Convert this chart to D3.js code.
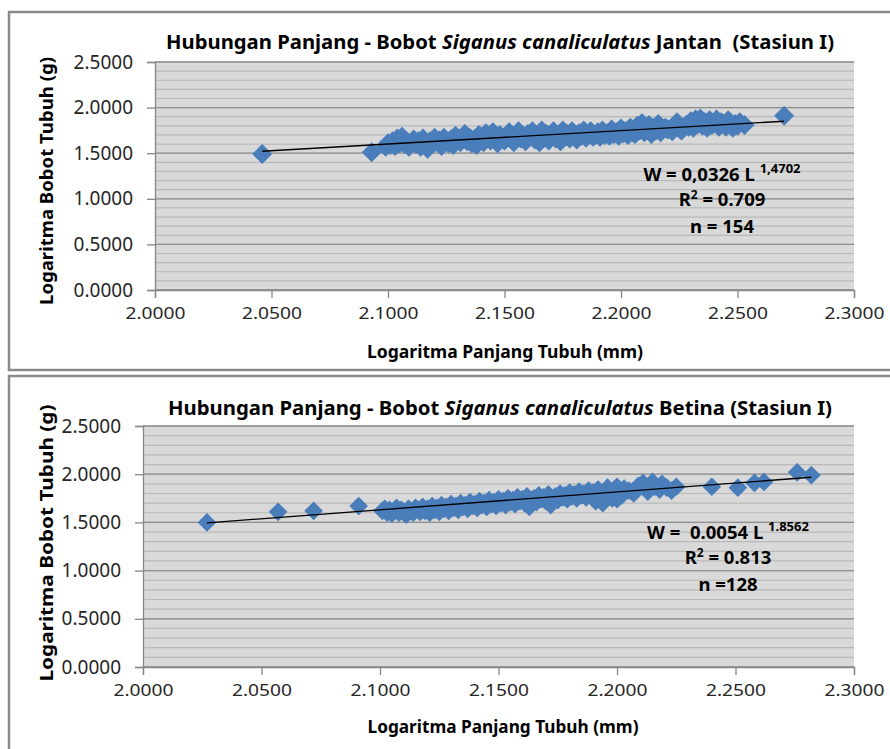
<!DOCTYPE html>
<html>
<head>
<meta charset="utf-8">
<script src="https://cdn.jsdelivr.net/npm/d3@7"></script>
<style>
  body { margin: 0; background: #fff; }
  text { font-family: 'Noto Sans', 'Open Sans', sans-serif; }
</style>
</head>
<body>
<div id="chart"></div>
<script>
const xTicks = [2.0, 2.05, 2.1, 2.15, 2.2, 2.25, 2.3]
const yTicks = [0, 0.5, 1.0, 1.5, 2.0, 2.5]

// Jantan (male), n = 154 -- log length vs log weight
const jantanX = [2.046, 2.093, 2.099, 2.100, 2.101, 2.102, 2.103, 2.104, 2.105, 2.106, 2.107, 2.108, 2.109, 2.110, 2.111, 2.112, 2.113, 2.114, 2.115, 2.116,
  2.117, 2.118, 2.119, 2.120, 2.121, 2.122, 2.123, 2.124, 2.125, 2.126, 2.127, 2.128, 2.129, 2.130, 2.131, 2.132, 2.133, 2.134, 2.135, 2.136,
  2.137, 2.138, 2.139, 2.140, 2.141, 2.142, 2.143, 2.144, 2.145, 2.146, 2.147, 2.148, 2.149, 2.150, 2.151, 2.152, 2.153, 2.154, 2.155, 2.156,
  2.157, 2.158, 2.159, 2.160, 2.161, 2.162, 2.163, 2.164, 2.165, 2.166, 2.167, 2.168, 2.169, 2.170, 2.171, 2.172, 2.173, 2.174, 2.175, 2.176,
  2.177, 2.178, 2.179, 2.180, 2.181, 2.182, 2.183, 2.184, 2.185, 2.186, 2.187, 2.188, 2.189, 2.190, 2.191, 2.192, 2.193, 2.194, 2.195, 2.196,
  2.197, 2.198, 2.199, 2.200, 2.201, 2.202, 2.203, 2.204, 2.205, 2.206, 2.207, 2.208, 2.209, 2.210, 2.211, 2.212, 2.213, 2.214, 2.215, 2.216,
  2.217, 2.219, 2.220, 2.222, 2.223, 2.224, 2.225, 2.226, 2.228, 2.229, 2.230, 2.231, 2.232, 2.233, 2.234, 2.235, 2.236, 2.237, 2.238, 2.239,
  2.240, 2.241, 2.242, 2.243, 2.244, 2.245, 2.246, 2.247, 2.248, 2.249, 2.250, 2.251, 2.253, 2.270]
const jantanY = [1.49, 1.51, 1.57, 1.61, 1.59, 1.63, 1.58, 1.66, 1.61, 1.68, 1.60, 1.63, 1.57, 1.62, 1.65, 1.60, 1.63, 1.57, 1.66, 1.61,
  1.55, 1.63, 1.60, 1.67, 1.62, 1.64, 1.58, 1.67, 1.63, 1.61, 1.65, 1.59, 1.69, 1.64, 1.62, 1.66, 1.71, 1.63, 1.67, 1.61,
  1.65, 1.59, 1.70, 1.66, 1.62, 1.72, 1.67, 1.64, 1.73, 1.68, 1.61, 1.70, 1.66, 1.64, 1.69, 1.73, 1.67, 1.62, 1.70, 1.74,
  1.66, 1.69, 1.63, 1.71, 1.68, 1.74, 1.65, 1.70, 1.62, 1.75, 1.67, 1.71, 1.64, 1.69, 1.74, 1.66, 1.70, 1.63, 1.75, 1.68,
  1.71, 1.66, 1.74, 1.70, 1.65, 1.72, 1.69, 1.75, 1.67, 1.71, 1.74, 1.68, 1.70, 1.73, 1.68, 1.75, 1.70, 1.72, 1.69, 1.76,
  1.71, 1.73, 1.69, 1.77, 1.72, 1.74, 1.70, 1.78, 1.73, 1.71, 1.80, 1.75, 1.83, 1.73, 1.77, 1.81, 1.71, 1.78, 1.75, 1.82,
  1.73, 1.78, 1.76, 1.74, 1.80, 1.84, 1.77, 1.75, 1.81, 1.79, 1.85, 1.78, 1.87, 1.82, 1.88, 1.80, 1.84, 1.78, 1.86, 1.81,
  1.83, 1.87, 1.79, 1.84, 1.82, 1.79, 1.86, 1.83, 1.78, 1.82, 1.80, 1.84, 1.81, 1.91]

// Betina (female), n = 128
const betinaX = [2.027, 2.057, 2.072, 2.091, 2.101, 2.102, 2.103, 2.104, 2.105, 2.106, 2.107, 2.108, 2.109, 2.110, 2.111, 2.112, 2.113, 2.114, 2.115, 2.116,
  2.117, 2.118, 2.119, 2.120, 2.121, 2.122, 2.123, 2.124, 2.125, 2.126, 2.127, 2.128, 2.129, 2.130, 2.131, 2.132, 2.133, 2.134, 2.135, 2.136,
  2.137, 2.138, 2.139, 2.140, 2.141, 2.142, 2.143, 2.144, 2.145, 2.146, 2.147, 2.148, 2.149, 2.150, 2.151, 2.152, 2.153, 2.154, 2.155, 2.156,
  2.157, 2.158, 2.159, 2.160, 2.161, 2.162, 2.163, 2.164, 2.165, 2.166, 2.167, 2.168, 2.169, 2.170, 2.171, 2.172, 2.173, 2.174, 2.175, 2.176,
  2.177, 2.178, 2.179, 2.180, 2.181, 2.182, 2.183, 2.184, 2.185, 2.186, 2.187, 2.188, 2.189, 2.190, 2.191, 2.192, 2.193, 2.194, 2.195, 2.196,
  2.197, 2.198, 2.199, 2.200, 2.200, 2.201, 2.202, 2.203, 2.205, 2.207, 2.209, 2.211, 2.212, 2.213, 2.214, 2.215, 2.216, 2.218, 2.219, 2.221,
  2.223, 2.225, 2.240, 2.251, 2.258, 2.262, 2.276, 2.282]
const betinaY = [1.50, 1.61, 1.62, 1.67, 1.62, 1.64, 1.60, 1.63, 1.59, 1.62, 1.65, 1.60, 1.63, 1.61, 1.58, 1.64, 1.62, 1.60, 1.65, 1.63,
  1.61, 1.66, 1.62, 1.64, 1.60, 1.67, 1.63, 1.65, 1.61, 1.68, 1.64, 1.66, 1.62, 1.69, 1.65, 1.67, 1.63, 1.70, 1.66, 1.68,
  1.64, 1.71, 1.67, 1.69, 1.65, 1.72, 1.68, 1.70, 1.66, 1.73, 1.69, 1.71, 1.67, 1.74, 1.70, 1.72, 1.68, 1.75, 1.71, 1.73,
  1.69, 1.76, 1.72, 1.74, 1.70, 1.77, 1.66, 1.73, 1.75, 1.71, 1.78, 1.74, 1.76, 1.72, 1.79, 1.68, 1.75, 1.77, 1.73, 1.80,
  1.76, 1.78, 1.74, 1.81, 1.77, 1.79, 1.75, 1.82, 1.78, 1.80, 1.76, 1.83, 1.79, 1.81, 1.72, 1.84, 1.77, 1.70, 1.82, 1.86,
  1.79, 1.75, 1.84, 1.87, 1.74, 1.81, 1.78, 1.85, 1.83, 1.80, 1.88, 1.91, 1.85, 1.82, 1.89, 1.92, 1.87, 1.84, 1.90, 1.86,
  1.83, 1.87, 1.87, 1.86, 1.91, 1.92, 2.02, 1.99]

// power fits W = a L^b  ->  log W = log a + b log L
const jantanFit = [0.0326, 1.4702]
const betinaFit = [0.0054, 1.8562]

const W = 890
const H = 749

const svg = d3.select('#chart')
  .append('svg')
  .attr('width', W)
  .attr('height', H)

// outer frames
svg.append('rect')
  .attr('x', 9).attr('y', 12).attr('width', 900).attr('height', 358)
  .attr('fill', 'none').attr('stroke', '#8a8a8a').attr('stroke-width', 2.5)
svg.append('rect')
  .attr('x', 9).attr('y', 376).attr('width', 900).attr('height', 400)
  .attr('fill', 'none').attr('stroke', '#8a8a8a').attr('stroke-width', 2.5)

const drawPanel = (p) => {
  const g = svg.append('g')

  const xScale = d3.scaleLinear().domain([2.0, 2.3]).range([p.left, p.right])
  const yScale = d3.scaleLinear().domain([0, 2.5]).range([p.bottom, p.top])

  // plot background
  g.append('rect')
    .attr('x', p.left).attr('y', p.top)
    .attr('width', p.right - p.left).attr('height', p.bottom - p.top)
    .attr('fill', '#d9d9d9')

  // minor gridlines (0.1)
  g.selectAll('.minor')
    .data(yScale.ticks(25))
    .enter()
    .append('line')
    .attr('x1', p.left).attr('x2', p.right)
    .attr('y1', d => yScale(d)).attr('y2', d => yScale(d))
    .attr('stroke', '#b9b9b9').attr('stroke-width', 1.2)

  // major gridlines
  g.selectAll('.major')
    .data(yTicks)
    .enter()
    .append('line')
    .attr('x1', p.left).attr('x2', p.right)
    .attr('y1', d => yScale(d)).attr('y2', d => yScale(d))
    .attr('stroke', '#8f8f8f').attr('stroke-width', 1.3)

  const yAxis = d3.axisLeft(yScale)
    .tickValues(yTicks)
    .tickFormat(d3.format('.4f'))
    .tickSize(8)
    .tickPadding(p.yPad)

  const xAxis = d3.axisBottom(xScale)
    .tickValues(xTicks)
    .tickFormat(d3.format('.4f'))
    .tickSize(8)
    .tickPadding(9)

  const ya = g.append('g')
    .attr('transform', 'translate(' + p.left + ',0)')
    .call(yAxis)
  ya.selectAll('text').style('font-size', '19px').style('fill', '#262626')

  const xa = g.append('g')
    .attr('transform', 'translate(0,' + p.bottom + ')')
    .call(xAxis)
  xa.selectAll('text').style('font-size', '17px').style('fill', '#262626')
    .attr('textLength', 60).attr('lengthAdjust', 'spacingAndGlyphs')

  g.selectAll('.domain, .tick line').attr('stroke', '#868686').attr('stroke-width', 1.3)

  // points
  const pts = p.xs.map((x, i) => [x, p.ys[i]])
  const diamond = d3.symbol(d3.symbolSquare, p.mSize)
  g.selectAll('.pt')
    .data(pts)
    .enter()
    .append('path')
    .attr('d', diamond)
    .attr('transform', d => 'translate(' + xScale(d[0]) + ',' + yScale(d[1]) + ') rotate(45)')
    .attr('fill', '#4a7ebb')

  // trend line from the power fit
  const fitY = x => Math.log10(p.fit[0]) + p.fit[1] * x
  const ext = d3.extent(p.xs)
  g.append('line')
    .attr('x1', xScale(ext[0])).attr('y1', yScale(fitY(ext[0])))
    .attr('x2', xScale(ext[1])).attr('y2', yScale(fitY(ext[1])))
    .attr('stroke', '#000').attr('stroke-width', 1.3)

  // title
  const t = g.append('text')
    .attr('x', p.titleX).attr('y', p.titleY)
    .attr('text-anchor', 'middle')
    .style('font-size', '19px').style('font-weight', 'bold')
    .style('white-space', 'pre')
    .attr('textLength', p.titleLen).attr('lengthAdjust', 'spacingAndGlyphs')
  t.append('tspan').text('Hubungan Panjang - Bobot ')
  t.append('tspan').style('font-style', 'italic').text('Siganus canaliculatus')
  t.append('tspan').text(p.titleEnd)

  // axis titles
  g.append('text')
    .attr('x', p.xtX).attr('y', p.xtY)
    .attr('text-anchor', 'middle')
    .style('font-size', '17px').style('font-weight', 'bold')
    .attr('textLength', p.xtLen).attr('lengthAdjust', 'spacingAndGlyphs')
    .text('Logaritma Panjang Tubuh (mm)')

  g.append('text')
    .attr('transform', 'translate(' + p.ytX + ',' + p.ytY + ') rotate(-90)')
    .attr('text-anchor', 'middle')
    .style('font-size', '18px').style('font-weight', 'bold')
    .attr('textLength', p.ytLen).attr('lengthAdjust', 'spacingAndGlyphs')
    .text('Logaritma Bobot Tubuh (g)')

  // equation block
  const eq = g.append('text')
    .attr('x', p.eqX).attr('y', p.eqY[0])
    .attr('text-anchor', 'middle')
    .style('font-size', '18.5px').style('font-weight', 'bold')
    .style('white-space', 'pre')
  eq.append('tspan').text(p.eqText)
  eq.append('tspan').attr('dy', -8).style('font-size', '13px').text(p.eqExp)

  const r2 = g.append('text')
    .attr('x', p.eqX).attr('y', p.eqY[1])
    .attr('text-anchor', 'middle')
    .style('font-size', '18.5px').style('font-weight', 'bold')
  r2.append('tspan').text('R')
  r2.append('tspan').attr('dy', -7).style('font-size', '12px').text('2')
  r2.append('tspan').attr('dy', 7).text(' = ' + p.r2)

  g.append('text')
    .attr('x', p.eqX).attr('y', p.eqY[2])
    .attr('text-anchor', 'middle')
    .style('font-size', '18.5px').style('font-weight', 'bold')
    .style('white-space', 'pre')
    .text(p.nText)
}

drawPanel({
  left: 155, right: 854, top: 62, bottom: 290, yPad: 14,
  xs: jantanX, ys: jantanY, fit: jantanFit, mSize: 200,
  titleX: 500, titleY: 49, titleLen: 668, titleEnd: ' Jantan  (Stasiun I)',
  xtX: 505, xtY: 358, xtLen: 276,
  ytX: 53, ytY: 181, ytLen: 248,
  eqX: 722, eqY: [181, 206, 233],
  eqText: 'W = 0,0326 L ', eqExp: '1,4702', r2: '0.709', nText: 'n = 154'
})

drawPanel({
  left: 143, right: 854, top: 426, bottom: 667, yPad: 14,
  xs: betinaX, ys: betinaY, fit: betinaFit, mSize: 175,
  titleX: 500, titleY: 415, titleLen: 664, titleEnd: ' Betina (Stasiun I)',
  xtX: 503, xtY: 733, xtLen: 271,
  ytX: 53, ytY: 543, ytLen: 277,
  eqX: 728, eqY: [539, 564, 591],
  eqText: 'W =  0.0054 L ', eqExp: '1.8562', r2: '0.813', nText: 'n =128'
})
</script>
</body>
</html>
